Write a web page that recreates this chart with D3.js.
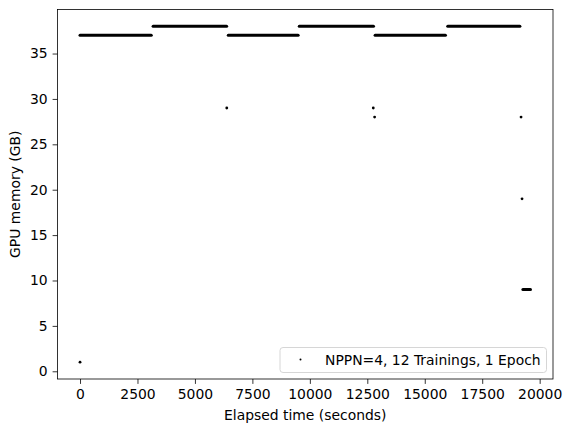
<!DOCTYPE html>
<html>
<head>
<meta charset="utf-8">
<script src="https://cdn.jsdelivr.net/npm/d3@7"></script>
<style>
  body { margin: 0; background: #fff; }
  svg text { font-family: "DejaVu Sans", sans-serif; fill: #000; }
</style>
</head>
<body>
<svg id="chart" width="572" height="432"></svg>
<script>
/* steady memory levels: start/end time (s) and GB */
var segStart = [0, 3180, 6450, 9540, 12840, 16000, 19270];
var segEnd   = [3100, 6380, 9490, 12770, 15900, 19140, 19600];
var segGB    = [37, 38, 37, 38, 37, 38, 9];

/* isolated samples */
var pointTime = [0, 6385, 12760, 12818, 19190, 19233];
var pointGB   = [1, 29, 29, 28, 28, 19];

var xTicks = [0, 2500, 5000, 7500, 10000, 12500, 15000, 17500, 20000];
var yTicks = [0, 5, 10, 15, 20, 25, 30, 35];
var legendLabel = 'NPPN=4, 12 Trainings, 1 Epoch';

var svg = d3.select('#chart');
// note: "top" is taken by window.top, so plot* names
var plotLeft = 57.5, plotRight = 553, plotTop = 9.5, plotBottom = 379;

var allX = segStart.concat(segEnd, pointTime),
    allY = segGB.concat(pointGB);

function padded(ext) {
  var p = (ext[1] - ext[0]) * 0.05;
  return [ext[0] - p, ext[1] + p];
}

var x = d3.scaleLinear().domain(padded(d3.extent(allX))).range([plotLeft, plotRight]);
var y = d3.scaleLinear().domain(padded(d3.extent(allY))).range([plotBottom, plotTop]);

// segments (dense samples)
svg.append('g')
  .selectAll('line')
  .data(segGB)
  .enter().append('line')
  .attr('x1', function(d, i) { return x(segStart[i]); })
  .attr('x2', function(d, i) { return x(segEnd[i]); })
  .attr('y1', function(d) { return y(d); })
  .attr('y2', function(d) { return y(d); })
  .attr('stroke', '#000')
  .attr('stroke-width', 3)
  .attr('stroke-linecap', 'round');

svg.append('g')
  .selectAll('circle')
  .data(pointGB)
  .enter().append('circle')
  .attr('cx', function(d, i) { return x(pointTime[i]); })
  .attr('cy', function(d) { return y(d); })
  .attr('r', 1.4)
  .attr('fill', '#000');

// axes
var xAxis = svg.append('g')
  .attr('transform', 'translate(0,' + plotBottom + ')')
  .call(d3.axisBottom(x).tickValues(xTicks).tickSize(4.9).tickPadding(4.9).tickFormat(d3.format('d')));
var yAxis = svg.append('g')
  .attr('transform', 'translate(' + plotLeft + ',0)')
  .call(d3.axisLeft(y).tickValues(yTicks).tickSize(4.9).tickPadding(4.9).tickFormat(d3.format('d')));

[xAxis, yAxis].forEach(function(a) {
  a.select('.domain').remove();
  a.selectAll('line').attr('stroke', '#000').attr('stroke-width', 0.8);
  a.selectAll('text').style('font-size', '13.9px').style('font-family', '"DejaVu Sans", sans-serif');
});

svg.append('rect')
  .attr('x', plotLeft).attr('y', plotTop)
  .attr('width', plotRight - plotLeft).attr('height', plotBottom - plotTop)
  .attr('fill', 'none').attr('stroke', '#000').attr('stroke-width', 0.8);

svg.append('text')
  .attr('x', (plotLeft + plotRight) / 2).attr('y', 420)
  .attr('text-anchor', 'middle')
  .style('font-size', '13.9px')
  .text('Elapsed time (seconds)');

svg.append('text')
  .attr('transform', 'translate(20,' + (plotTop + plotBottom) / 2 + ') rotate(-90)')
  .attr('text-anchor', 'middle')
  .style('font-size', '13.9px')
  .text('GPU memory (GB)');

// legend
var lg = svg.append('g');
lg.append('rect')
  .attr('x', 280).attr('y', 347.5)
  .attr('width', 266.5).attr('height', 25)
  .attr('rx', 3)
  .attr('fill', '#fff').attr('fill-opacity', 0.8)
  .attr('stroke', '#ccc').attr('stroke-width', 0.8);
lg.append('circle')
  .attr('cx', 300.5).attr('cy', 359.5).attr('r', 1)
  .attr('fill', '#000');
lg.append('text')
  .attr('x', 325).attr('y', 364.5)
  .style('font-size', '13.9px')
  .text(legendLabel);
</script>
</body>
</html>
